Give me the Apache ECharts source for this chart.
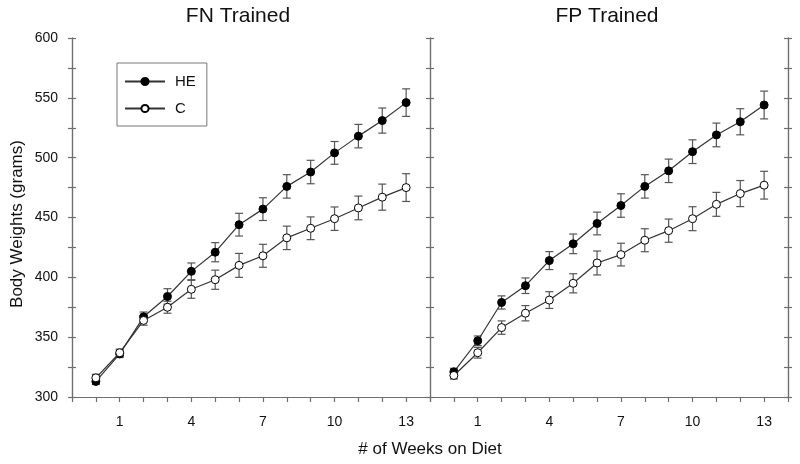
<!DOCTYPE html>
<html>
<head>
<meta charset="utf-8">
<script src="https://cdn.jsdelivr.net/npm/echarts@6/dist/echarts.min.js"></script>
<style>html,body{margin:0;padding:0;background:#fff}#c{width:800px;height:464px}</style>
</head>
<body>
<div id="c"></div>
<script>
// Weeks on diet (0..13)
const weeks = [0, 1, 2, 3, 4, 5, 6, 7, 8, 9, 10, 11, 12, 13];
const xTickLabels = [1, 4, 7, 10, 13];
const panelTitles = ['FN Trained', 'FP Trained'];
const seriesNames = ['HE', 'C'];

// FN Trained
const fnHE    = [313, 336, 367, 384, 405, 421, 444, 457, 476, 488, 504, 518, 531, 546];
const fnHEerr = [2.5, 3, 4, 6.5, 7, 8, 9.5, 9.5, 9.8, 9.8, 9.5, 9.8, 10.5, 11.5];
const fnC     = [316, 337, 364, 375, 390, 398, 410, 418, 433, 441, 449, 458, 467, 475];
const fnCerr  = [3, 3, 4, 5, 7.5, 8, 10, 9.6, 9.8, 9.5, 9.8, 9.9, 10.9, 11.6];

// FP Trained
const fpHE    = [321, 347, 379, 393, 414, 428, 445, 460, 476, 489, 505, 519, 530, 544];
const fpHEerr = [3, 4, 5.5, 6.5, 7.5, 8.2, 9.5, 9.8, 9.8, 9.8, 9.9, 9.9, 10.9, 11.6];
const fpC     = [318, 337, 358, 370, 381, 395, 412, 419, 431, 439, 449, 461, 470, 477];
const fpCerr  = [3, 4.5, 5.6, 6.4, 7, 8, 10, 9.5, 9.6, 9.7, 10, 10, 10.9, 11.6];

const FONT = "'Liberation Sans', Arial, sans-serif";
const AXIS = '#6e6e6e';
const LINE = '#333333';

const chart = echarts.init(document.getElementById('c'), null, {renderer: 'canvas'});

function pairs(vals) { return weeks.map((w, i) => [w, vals[i]]); }
function errData(vals, errs) { return weeks.map((w, i) => [w, vals[i] - errs[i], vals[i] + errs[i]]); }

function errSeries(vals, errs, xi, yi) {
  return {
    type: 'custom', xAxisIndex: xi, yAxisIndex: yi, z: 1, silent: true,
    data: errData(vals, errs),
    renderItem: function (params, api) {
      const x = api.value(0);
      const lo = api.coord([x, api.value(1)]);
      const hi = api.coord([x, api.value(2)]);
      const hw = 4;
      const st = {stroke: '#555', lineWidth: 1.2, fill: null};
      return {type: 'group', children: [
        {type: 'line', shape: {x1: lo[0], y1: lo[1], x2: hi[0], y2: hi[1]}, style: st},
        {type: 'line', shape: {x1: lo[0] - hw, y1: lo[1], x2: lo[0] + hw, y2: lo[1]}, style: st},
        {type: 'line', shape: {x1: hi[0] - hw, y1: hi[1], x2: hi[0] + hw, y2: hi[1]}, style: st}
      ]};
    }
  };
}

function lineSeries(name, vals, xi, yi, filled) {
  return {
    name: name, type: 'line', xAxisIndex: xi, yAxisIndex: yi, z: filled ? 3 : 4,
    data: pairs(vals), symbol: 'circle', symbolSize: 8, showSymbol: true,
    lineStyle: {color: LINE, width: 1.2},
    itemStyle: {color: filled ? '#000' : '#fff', borderColor: '#000', borderWidth: 1},
    emphasis: {disabled: true}, animation: false
  };
}

function xAxis(gi) {
  return {
    type: 'value', gridIndex: gi, min: -1, max: 14, interval: 1,
    axisLine: {show: true, lineStyle: {color: AXIS, width: 1.2}},
    axisTick: {show: true, inside: false, length: 5, lineStyle: {color: AXIS, width: 1.2}},
    axisLabel: {
      show: true, margin: 18, color: '#111', fontFamily: FONT, fontSize: 14,
      formatter: v => xTickLabels.indexOf(v) >= 0 ? String(v) : ''
    },
    splitLine: {show: false}
  };
}

function yAxis(gi, pos, inside, labels) {
  return {
    type: 'value', gridIndex: gi, position: pos, min: 300, max: 600, interval: 25,
    axisLine: {show: true, onZero: false, lineStyle: {color: AXIS, width: 1.2}},
    axisTick: {show: true, inside: inside, length: 4, lineStyle: {color: AXIS, width: 1.2}},
    axisLabel: {
      show: labels, margin: 14, color: '#111', fontFamily: FONT, fontSize: 14,
      formatter: v => (v % 50 === 0 ? String(v) : '')
    },
    splitLine: {show: false}
  };
}

const option = {
  backgroundColor: '#fff',
  animation: false,
  textStyle: {fontFamily: FONT},
  grid: [
    {left: 72, top: 38, width: 358, height: 359},
    {left: 430, top: 38, width: 358, height: 359}
  ],
  xAxis: [xAxis(0), xAxis(1)],
  yAxis: [
    yAxis(0, 'left', false, true),
    yAxis(0, 'left', true, false),
    yAxis(1, 'left', false, false),
    yAxis(1, 'left', true, false),
    yAxis(1, 'right', false, false),
    yAxis(1, 'right', true, false)
  ],
  legend: {
    show: true, orient: 'vertical', left: 117, top: 63,
    data: seriesNames,
    itemWidth: 40, itemHeight: 9, itemGap: 12,
    padding: [11, 11, 10, 7],
    borderColor: '#777', borderWidth: 1,
    textStyle: {fontFamily: FONT, fontSize: 15, color: '#111', padding: [0, 0, 0, 5]},
    selectedMode: false
  },
  graphic: [
    {type: 'text', x: 238, y: 16, style: {text: panelTitles[0], fontFamily: FONT, fontSize: 21, fill: '#111', textAlign: 'center', textVerticalAlign: 'middle'}},
    {type: 'text', x: 607, y: 16, style: {text: panelTitles[1], fontFamily: FONT, fontSize: 21, fill: '#111', textAlign: 'center', textVerticalAlign: 'middle'}},
    {type: 'text', x: 17, y: 224, rotation: Math.PI / 2, style: {text: 'Body Weights (grams)', fontFamily: FONT, fontSize: 17, fill: '#111', textAlign: 'center', textVerticalAlign: 'middle'}},
    {type: 'text', x: 430, y: 449, style: {text: '# of Weeks on Diet', fontFamily: FONT, fontSize: 17, fill: '#111', textAlign: 'center', textVerticalAlign: 'middle'}}
  ],
  series: [
    errSeries(fnHE, fnHEerr, 0, 0),
    errSeries(fnC, fnCerr, 0, 0),
    lineSeries(seriesNames[0], fnHE, 0, 0, true),
    lineSeries(seriesNames[1], fnC, 0, 0, false),
    errSeries(fpHE, fpHEerr, 1, 2),
    errSeries(fpC, fpCerr, 1, 2),
    lineSeries(seriesNames[0], fpHE, 1, 2, true),
    lineSeries(seriesNames[1], fpC, 1, 2, false)
  ]
};
chart.setOption(option);
</script>
</body>
</html>
